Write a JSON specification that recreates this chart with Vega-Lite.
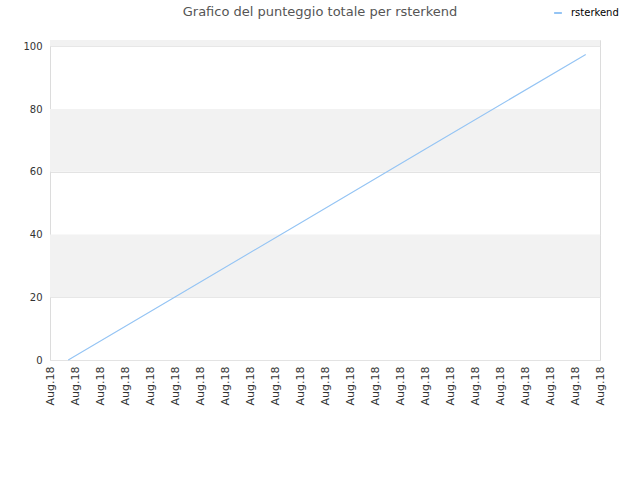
{
  "$schema": "https://vega.github.io/schema/vega-lite/v6.json",
  "width": 550,
  "height": 320,
  "autosize": {"type": "none"},
  "padding": {"left": 50, "top": 40, "right": 40, "bottom": 120},
  "background": "white",
  "config": {
    "font": "DejaVu Sans",
    "view": {"stroke": "#dcdcdc", "strokeWidth": 1},
    "axis": {"labelFont": "DejaVu Sans", "labelColor": "#333333", "labelFontSize": 10}
  },
  "title": {
    "text": "Grafico del punteggio totale per rsterkend",
    "anchor": "middle",
    "dx": -5,
    "offset": -11,
    "fontSize": 13,
    "fontWeight": "normal",
    "color": "#555555"
  },
  "datasets": {
    "bands": [
      {"lo": 20, "hi": 40},
      {"lo": 60, "hi": 80},
      {"lo": 100, "hi": 102}
    ],
    "scores": [
      {"t": 0.73, "punteggio": 0, "utente": "rsterkend"},
      {"t": 5, "punteggio": 20.1, "utente": "rsterkend"},
      {"t": 10, "punteggio": 43.6, "utente": "rsterkend"},
      {"t": 15, "punteggio": 67.2, "utente": "rsterkend"},
      {"t": 21.43, "punteggio": 97.4, "utente": "rsterkend"}
    ]
  },
  "layer": [
    {
      "data": {"name": "bands"},
      "mark": {"type": "rect", "color": "#f2f2f2"},
      "encoding": {
        "y": {"field": "lo", "type": "quantitative", "scale": {"domain": [0, 102], "nice": false}},
        "y2": {"field": "hi"}
      }
    },
    {
      "data": {"name": "scores"},
      "mark": {"type": "line", "strokeWidth": 1.1},
      "encoding": {
        "x": {
          "field": "t",
          "type": "quantitative",
          "scale": {"domain": [0, 22], "nice": false, "zero": false},
          "axis": {
            "title": null,
            "values": [0, 1, 2, 3, 4, 5, 6, 7, 8, 9, 10, 11, 12, 13, 14, 15, 16, 17, 18, 19, 20, 21, 22],
            "labelExpr": "'Aug.18'",
            "labelAngle": -90,
            "labelFontSize": 11,
            "labelPadding": 6,
            "ticks": false,
            "domain": false,
            "grid": false,
            "labelOverlap": false,
            "labelFlush": false,
            "labelBound": false
          }
        },
        "y": {
          "field": "punteggio",
          "type": "quantitative",
          "scale": {"domain": [0, 102], "nice": false},
          "axis": {
            "title": null,
            "values": [0, 20, 40, 60, 80, 100],
            "ticks": false,
            "domain": false,
            "grid": true,
            "gridColor": "#e3e3e3",
            "labelPadding": 8,
            "labelFontSize": 10
          }
        },
        "color": {
          "field": "utente",
          "type": "nominal",
          "scale": {"range": ["#94c4f4"]},
          "legend": {
            "title": null,
            "orient": "none",
            "legendX": 503,
            "legendY": -32,
            "symbolType": "stroke",
            "symbolSize": 60,
            "symbolStrokeWidth": 2,
            "labelFontSize": 10,
            "labelOffset": 8,
            "labelColor": "#000000",
            "labelFont": "DejaVu Sans"
          }
        }
      }
    }
  ]
}
